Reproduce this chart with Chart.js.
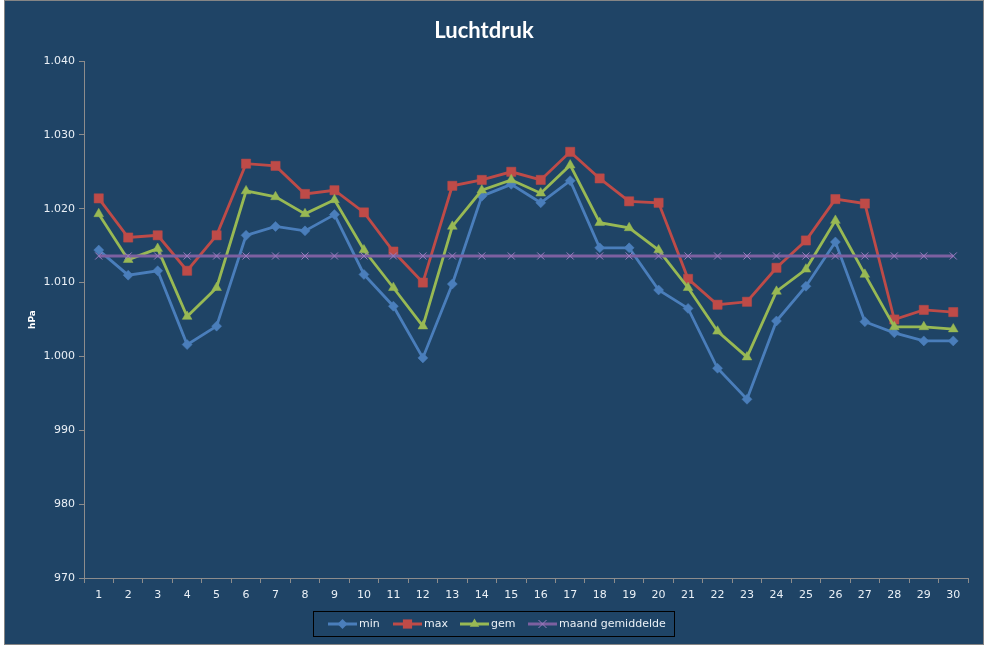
<!DOCTYPE html>
<html>
<head>
<meta charset="utf-8">
<script src="https://cdn.jsdelivr.net/npm/chart.js@4/dist/chart.umd.min.js"></script>
<style>
  html, body { margin: 0; padding: 0; background: #ffffff; }
  #wrap { position: absolute; left: 0; top: 0; width: 987px; height: 648px; }
</style>
</head>
<body>
<div id="wrap"><canvas id="c" width="987" height="648"></canvas></div>
<script>
const days = ['1','2','3','4','5','6','7','8','9','10','11','12','13','14','15','16','17','18','19','20','21','22','23','24','25','26','27','28','29','30'];
const minVals = [1014.4, 1011.0, 1011.6, 1001.6, 1004.1, 1016.4, 1017.6, 1017.0, 1019.2, 1011.1, 1006.8, 999.8, 1009.8, 1021.7, 1023.3, 1020.8, 1023.8, 1014.7, 1014.7, 1009.0, 1006.5, 998.4, 994.2, 1004.8, 1009.5, 1015.5, 1004.7, 1003.2, 1002.1, 1002.1];
const maxVals = [1021.4, 1016.1, 1016.4, 1011.6, 1016.4, 1026.1, 1025.8, 1022.0, 1022.5, 1019.5, 1014.2, 1010.0, 1023.1, 1023.9, 1025.0, 1023.9, 1027.7, 1024.1, 1021.0, 1020.8, 1010.5, 1007.0, 1007.4, 1012.0, 1015.7, 1021.3, 1020.7, 1005.0, 1006.3, 1006.0];
const gemVals = [1019.3, 1013.1, 1014.6, 1005.4, 1009.3, 1022.4, 1021.6, 1019.3, 1021.2, 1014.4, 1009.3, 1004.1, 1017.6, 1022.5, 1023.9, 1022.1, 1025.9, 1018.1, 1017.4, 1014.4, 1009.3, 1003.4, 999.9, 1008.8, 1011.8, 1018.4, 1011.1, 1004.0, 1004.0, 1003.7];
const maandVals = [1013.6, 1013.6, 1013.6, 1013.6, 1013.6, 1013.6, 1013.6, 1013.6, 1013.6, 1013.6, 1013.6, 1013.6, 1013.6, 1013.6, 1013.6, 1013.6, 1013.6, 1013.6, 1013.6, 1013.6, 1013.6, 1013.6, 1013.6, 1013.6, 1013.6, 1013.6, 1013.6, 1013.6, 1013.6, 1013.6];
const seriesNames = ['min', 'max', 'gem', 'maand gemiddelde'];
const titleText = 'Luchtdruk';
const yTitle = 'hPa';

const BG = '#1F4466';
const TXT = '#EAF0F6';
const AXIS = '#8C8C8C';
const colors = ['#4A7EBB', '#BE4B48', '#98B954', '#7D60A0'];
const styles = ['rectRot', 'rect', 'triangle', 'crossRot'];

function fmt(v) {
  const s = String(Math.round(v));
  return s.length > 3 ? s.slice(0, s.length - 3) + '.' + s.slice(-3) : s;
}

function drawMarker(ctx, style, x, y, color) {
  ctx.save();
  ctx.fillStyle = color;
  ctx.strokeStyle = color;
  ctx.beginPath();
  if (style === 'rectRot') {
    const r = 5;
    ctx.moveTo(x - r, y); ctx.lineTo(x, y - r); ctx.lineTo(x + r, y); ctx.lineTo(x, y + r); ctx.closePath(); ctx.fill();
  } else if (style === 'rect') {
    const s = 4.6;
    ctx.rect(x - s, y - s, 2 * s, 2 * s); ctx.fill();
  } else if (style === 'triangle') {
    const r = 5.5;
    ctx.moveTo(x, y - r);
    ctx.lineTo(x + r * 0.866, y + r * 0.5);
    ctx.lineTo(x - r * 0.866, y + r * 0.5);
    ctx.closePath(); ctx.fill();
  } else {
    const r = 4;
    ctx.lineWidth = 1;
    ctx.moveTo(x - r, y - r); ctx.lineTo(x + r, y + r);
    ctx.moveTo(x + r, y - r); ctx.lineTo(x - r, y + r);
    ctx.stroke();
  }
  ctx.restore();
}

const bgPlugin = {
  id: 'bgPlugin',
  beforeDraw(chart) {
    const ctx = chart.ctx;
    ctx.save();
    ctx.fillStyle = '#ffffff';
    ctx.fillRect(0, 0, chart.width, chart.height);
    ctx.fillStyle = BG;
    ctx.fillRect(4, 0, 980, 645);
    ctx.strokeStyle = '#858585';
    ctx.lineWidth = 1;
    ctx.strokeRect(4.5, 0.5, 979, 644);
    ctx.restore();
  }
};

const legendPlugin = {
  id: 'customLegend',
  afterDraw(chart) {
    const ctx = chart.ctx;
    ctx.save();
    ctx.strokeStyle = '#000000';
    ctx.lineWidth = 1;
    ctx.strokeRect(313.5, 611.5, 361, 25);
    const xs = [328, 393, 460, 528];
    const y = 624;
    ctx.font = '11px "DejaVu Sans", Verdana, sans-serif';
    ctx.textBaseline = 'middle';
    ctx.textAlign = 'left';
    chart.data.datasets.forEach((ds, i) => {
      const x0 = xs[i];
      ctx.strokeStyle = ds.borderColor;
      ctx.lineWidth = 3;
      ctx.beginPath();
      ctx.moveTo(x0, y); ctx.lineTo(x0 + 29, y); ctx.stroke();
      drawMarker(ctx, styles[i], x0 + 14.5, y, ds.pointBorderColor || ds.borderColor);
      ctx.fillStyle = TXT;
      ctx.fillText(ds.label, x0 + 31, y + 0.5);
    });
    ctx.restore();
  }
};

const mk = (i, data, radius, order, pColor) => ({
  label: seriesNames[i],
  data: data,
  borderColor: colors[i],
  backgroundColor: pColor || colors[i],
  pointBackgroundColor: pColor || colors[i],
  pointBorderColor: pColor || colors[i],
  pointStyle: styles[i],
  pointRadius: radius,
  pointHoverRadius: radius,
  pointBorderWidth: i === 3 ? 1 : 0.5,
  borderWidth: 2.8,
  tension: 0,
  fill: false,
  order: order
});

new Chart(document.getElementById('c'), {
  type: 'line',
  data: {
    labels: days,
    datasets: [
      mk(0, minVals, 5, 3),
      mk(1, maxVals, 6.5, 2),
      mk(2, gemVals, 5.6, 1),
      mk(3, maandVals, 5, 0, '#9A7CC0')
    ]
  },
  options: {
    responsive: false,
    animation: false,
    events: [],
    layout: { padding: { left: 0, right: 19, top: 0, bottom: 40 } },
    plugins: {
      legend: { display: false },
      tooltip: { enabled: false },
      title: {
        display: true,
        text: titleText,
        color: '#FFFFFF',
        font: { family: 'Lato, "Open Sans", sans-serif', size: 22, weight: 'bold' },
        padding: { top: 18, bottom: 16.6 }
      }
    },
    scales: {
      x: {
        offset: true,
        grid: { display: true, offset: true, drawOnChartArea: false, drawTicks: true, tickLength: 5, color: AXIS, lineWidth: 1 },
        border: { display: true, color: AXIS, width: 1 },
        ticks: { color: TXT, font: { family: '"DejaVu Sans", Verdana, sans-serif', size: 11 }, padding: 6, maxRotation: 0, autoSkip: false },
        afterFit(scale) { scale.height = 30; }
      },
      y: {
        min: 970,
        max: 1040,
        grid: { display: true, drawOnChartArea: false, drawTicks: true, tickLength: 5, color: AXIS, lineWidth: 1 },
        border: { display: true, color: AXIS, width: 1 },
        ticks: { stepSize: 10, color: TXT, font: { family: '"DejaVu Sans", Verdana, sans-serif', size: 11 }, padding: 4, callback: (v) => fmt(v) },
        title: { display: true, text: yTitle, color: '#FFFFFF', font: { family: '"DejaVu Sans", Verdana, sans-serif', size: 9, weight: 'bold' }, padding: { top: 27, bottom: 0 } },
        afterFit(scale) { scale.width = 84; }
      }
    }
  },
  plugins: [bgPlugin, legendPlugin]
});
</script>
</body>
</html>
